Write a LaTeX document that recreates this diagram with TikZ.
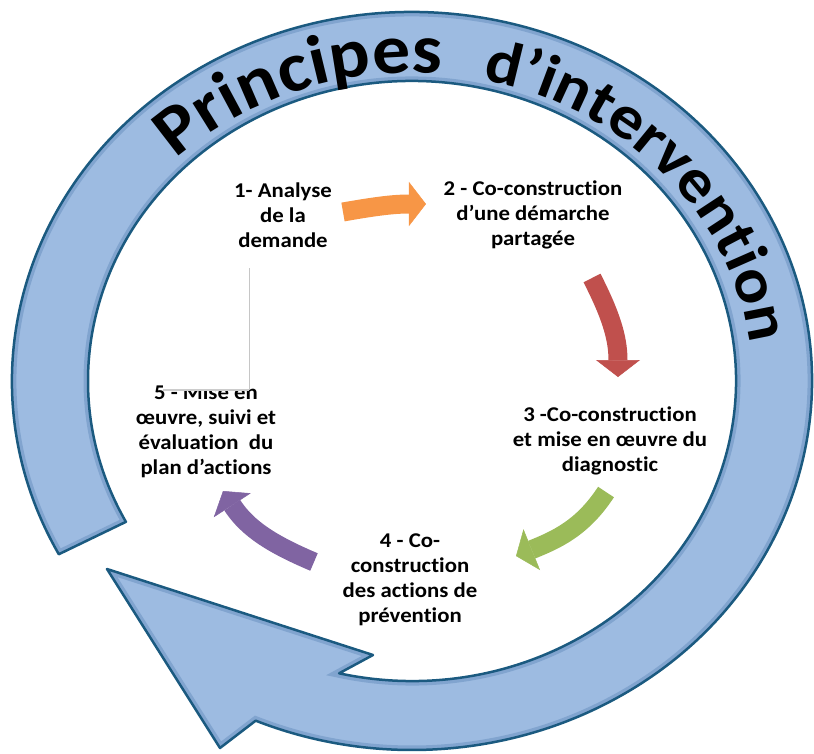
\documentclass[tikz,border=0pt]{standalone}
\usepackage{fontspec}
\setmainfont{Carlito}[FakeStretch=1.085, Ligatures={TeX,CommonOff}]
\usetikzlibrary{arrows.meta,decorations.text}

\definecolor{ringfill}{HTML}{9DBBE1}
\definecolor{ringedge}{HTML}{1B5A80}
\definecolor{ringshade}{HTML}{6F96C3}
\definecolor{flowone}{HTML}{F79646}
\definecolor{flowtwo}{HTML}{C0504D}
\definecolor{flowthree}{HTML}{9BBB59}
\definecolor{flowfour}{HTML}{8064A2}

\tikzset{
    steptext/.style={align=center, inner sep=0pt, font=\bfseries\fontsize{21}{25}\selectfont},
    flow/.style={line width=19pt, -{Triangle[length=17pt,width=44pt,line width=0.5pt]}},
    ringword/.style 2 args={decorate, decoration={text along path, text align=fit to path,
        text={|\bfseries\fontsize{#1}{#1}\selectfont|#2}}},
}

\newcommand\ringoutline{(208:400 and 369) arc[start angle=208,end angle=-113,x radius=400,y radius=369]
    -- (-192,-367) -- (-305,-188) -- (-39,-274)
    -- (-103:324 and 300) arc[start angle=-103,end angle=208,x radius=324,y radius=300] -- cycle}

\begin{document}
\begin{tikzpicture}[x=1pt,y=1pt]
    \useasboundingbox (-412,-372) rectangle (402,381);

    % big ring
    \fill[ringfill] \ringoutline;
    \begin{scope}
        \clip \ringoutline;
        \draw[ringshade, line width=9pt, opacity=0.6] \ringoutline;
    \end{scope}
    \draw[ringedge, line width=2.5pt, line join=round] \ringoutline;
    \path[ringword={70}{Principes}] (134:340 and 308) arc[start angle=134, end angle=87, x radius=340, y radius=308];
    \path[ringword={62}{d’intervention}] (78:340 and 308) arc[start angle=78, end angle=10, x radius=340, y radius=308];

    \node[steptext] (s1) at (-129,166) {1- Analyse\\de la\\demande};
    \node[steptext] (s2) at (121,166) {2 - Co-construction\\d’une démarche\\partagée};
    \node[steptext] (s3) at (198,-60) {3 -Co-construction\\et mise en œuvre du\\diagnostic};
    \node[steptext] (s4) at (-2,-199) {4 - Co-\\construction\\des actions de\\prévention};
    \node[steptext] (s5) at (-206,-50) {5 - Mise en\\œuvre, suivi et\\évaluation\ \ du\\plan d’actions};

    \fill[white] (-249,-9) rectangle (-163,113);
    \draw[gray!45, line width=0.6pt] (-163,113) -- (-163,-9);
    \draw[gray!40, line width=2pt] (-163,-9) -- (-249,-9);

    \coordinate (a1) at (-69,169);  \coordinate (b1) at (14,177);
    \coordinate (a2) at (180,103);  \coordinate (b2) at (206,4);
    \coordinate (a3) at (194,-111); \coordinate (b3) at (104,-175);
    \coordinate (a4) at (-98,-181); \coordinate (b4) at (-189,-110);

    \draw[flow, flowone] (a1) to[out=10, in=180] (b1);
    \draw[flow, flowtwo] (a2) to[out=-63, in=90] (b2);
    \draw[flow, flowthree] (a3) to[out=237, in=22] (b3);
    \draw[flow, flowfour] (a4) to[out=157, in=-57] (b4);
\end{tikzpicture}
\end{document}
